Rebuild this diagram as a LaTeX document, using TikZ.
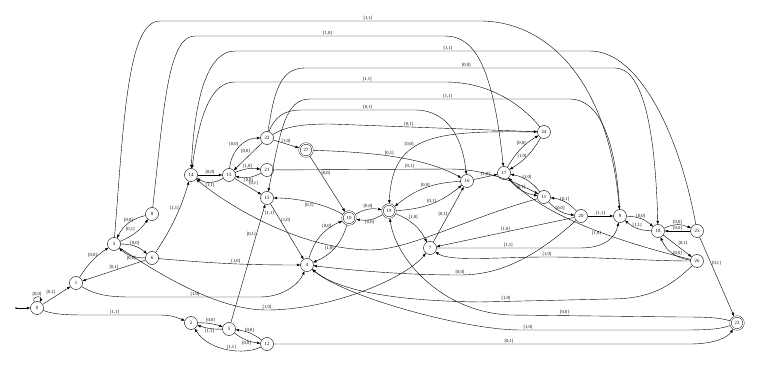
\documentclass[tikz,border=0pt]{standalone}
\usepackage{fontspec}
\setmainfont{Liberation Serif}
\usetikzlibrary{arrows.meta}
\tikzset{
  state/.style={circle,draw,minimum size=13pt,inner sep=0pt},
  accept/.style={state,double,double distance=1.1pt,outer sep=1pt},
  lbl/.style={inner sep=0.8pt,font=\fontsize{4.6}{5}\selectfont}
}
\begin{document}
\begin{tikzpicture}[x=1pt,y=1pt,font=\fontsize{4.8}{5}\selectfont,line width=0.4pt,
    >={Triangle[length=3.4pt,width=2.5pt]}]
  \useasboundingbox (0,0) rectangle (761,367);
  % states
  \coordinate (st) at (16,59);
  \node[state] (s0) at (37,59) {0};
  \node[state] (s1) at (76,84) {1};
  \node[state] (s2) at (191,44) {2};
  \node[state] (s3) at (114,123) {3};
  \node[state] (s8) at (152,153) {8};
  \node[state] (s6) at (152,109) {6};
  \node[state] (s5) at (229,38) {5};
  \node[state] (s12) at (267,23) {12};
  \node[state] (s14) at (191,192) {14};
  \node[state] (s13) at (229,192) {13};
  \node[state] (s22) at (267,229) {22};
  \node[state] (s21) at (267,197) {21};
  \node[accept] (s27) at (306,217) {27};
  \node[state] (s15) at (267,169) {15};
  \node[accept] (s10) at (349,149) {10};
  \node[state] (s4) at (307,102) {4};
  \node[state] (s24) at (544,235) {24};
  \node[state] (s17) at (504,194) {17};
  \node[state] (s16) at (467,186) {16};
  \node[state] (s11) at (544,170) {11};
  \node[accept] (s19) at (389,156) {19};
  \node[state] (s7) at (430,119) {7};
  \node[state] (s20) at (581,151) {20};
  \node[state] (s9) at (620,151) {9};
  \node[state] (s18) at (658,136) {18};
  \node[state] (s25) at (697,136) {25};
  \node[state] (s26) at (697,106) {26};
  \node[accept] (s23) at (737,44) {23};

  % left part
  \fill (st) circle (0.8pt);
  \draw[->] (st) -- (s0);
  \draw[->] (s0) to[loop,out=115,in=65,min distance=7pt] node[lbl,above] {[0,0]} (s0);
  \draw[->] (s0) -- node[lbl,above left] {[0,1]} (s1);
  \draw[->] (s1) to[bend left=12] node[lbl,left,pos=0.7] {[0,0]} (s3);
  \draw[->] (s8) to[bend right=25] node[lbl,above] {[0,0]} (s3);
  \draw[->] (s3) to[bend right=15] node[lbl,above left] {[0,1]} (s8);
  \draw[->] (s3) to[bend left=20] node[lbl,above] {[0,0]} (s6);
  \draw[->] (s6) to[bend left=20] node[lbl,below] {[0,0]} (s3);
  \draw[->] (s6) -- node[lbl,above] {[0,1]} (s1);
  \draw[->] (s6) to[bend right=8] node[lbl,left,pos=0.65] {[1,1]} (s14);
  \draw[->] (s6) to[out=-5,in=180] node[lbl,above,pos=0.55] {[1,0]} (s4);
  \draw[->] (s1) .. controls (95,72) and (110,70) .. (130,70) -- node[lbl,above] {[1,0]} (260,70) .. controls (285,70) and (300,85) .. (s4);
  \draw[->] (s0) .. controls (55,52) and (70,52) .. (90,52) -- node[lbl,above,pos=0.35] {[1,1]} (160,52) .. controls (172,52) and (178,49) .. (s2);
  \draw[->] (s3) .. controls (175,82) and (225,57) .. (267,57) node[lbl,above] {[1,0]} .. controls (330,57) and (405,88) .. (s7);

  % bottom
  \draw[->] (s2) to[bend left=10] node[lbl,above] {[0,0]} (s5);
  \draw[->] (s5) to[bend left=10] node[lbl,below] {[1,1]} (s2);
  \draw[->] (s12) to[bend right=15] node[lbl,above] {[0,0]} (s5);
  \draw[->] (s5) to[bend right=15] node[lbl,below] {[0,0]} (s12);
  \draw[->] (s12) .. controls (245,12) and (210,15) .. node[lbl,above,pos=0.45] {[1,1]} (s2);
  \draw[->] (s5) -- node[lbl,left,pos=0.75] {[0,1]} (s15);
  \draw[->] (s12) -- node[lbl,above,pos=0.565] {[0,1]} (690,23) .. controls (715,23) and (728,30) .. (s23);

  % middle
  \draw[->] (s14) -- node[lbl,above] {[0,0]} (s13);
  \draw[->] (s13) to[bend left=30] node[lbl,below] {[1,1]} (s14);
  \draw[->] (s13) to[out=85,in=180] node[lbl,above left] {[0,0]} (s22);
  \draw[->] (s22) -- node[lbl,above left,pos=0.4] {[0,0]} (s13);
  \draw[->] (s13) to[bend left=15] node[lbl,above] {[1,0]} (s21);
  \draw[->] (s21) to[bend left=20] node[lbl,below] {[0,0]} (s13);
  \draw[->] (s13) -- node[lbl,above right] {[0,1]} (s15);
  \draw[->] (s22) -- node[lbl,above] {[1,0]} (s27);
  \draw[->] (s27) -- node[lbl,right,pos=0.3] {[0,0]} (s10);
  \draw[->] (s10) to[out=150,in=0,looseness=0.8] node[lbl,below] {[0,1]} (s15);
  \draw[->] (s15) -- node[lbl,right,pos=0.3] {[1,0]} (s4);
  \draw[->] (s4) to[bend left=25] node[lbl,left,pos=0.8] {[0,0]} (s10);
  \draw[->] (s10) to[bend left=25] node[lbl,left] {[1,0]} (s4);
  \draw[->] (s10) to[bend left=20] node[lbl,above] {[0,0]} (s19);
  \draw[->] (s19) to[bend left=20] node[lbl,below] {[0,0]} (s10);
  \draw[->] (s19) to[bend left=20] node[lbl,above right,pos=0.3] {[1,0]} (s7);
  \draw[->] (s7) -- node[lbl,left] {[0,1]} (s16);
  \draw[->] (s16) to[bend right=18] node[lbl,above] {[0,0]} (s19);
  \draw[->] (s19) to[bend right=18] node[lbl,above] {[0,1]} (s16);
  \draw[->] (s16) -- node[lbl,above] {[1,0]} (s17);
  \draw[->] (s27) .. controls (360,215) and (420,212) .. node[lbl,above] {[0,1]} (s16);
  \draw[->] (s21) -- node[lbl,above,pos=0.77] {[0,1]} (450,198) .. controls (480,198) and (510,188) .. (s11);
  \draw[->] (s11) .. controls (470,150) and (410,117) .. (370,117) .. controls (300,118) and (230,160) .. node[lbl,above=8pt] {[1,1]} (s14);
  \draw[->] (s22) .. controls (274,250) and (285,257) .. (300,257) -- node[lbl,above,pos=0.59] {[0,1]} (415,257) .. controls (450,257) and (463,225) .. (s16);
  \draw[->] (s22) .. controls (285,240) and (300,243) .. (330,243) -- node[lbl,above,pos=0.38] {[0,1]} (s24);
  \draw[->] (s24) .. controls (440,236) and (392,235) .. node[lbl,above left,pos=0.6] {[0,0]} (s19);

  % right part
  \draw[->] (s17) to[bend left=14] node[lbl,left,pos=0.7] {[0,0]} (s24);
  \draw[->] (s24) to[bend left=14] node[lbl,left] {[1,0]} (s17);
  \draw[->] (s11) to[bend right=20] node[lbl,above] {[1,0]} (s17);
  \draw[->] (s17) to[bend right=20] node[lbl,above] {[0,1]} (s11);
  \draw[->] (s20) to[bend right=20] node[lbl,above] {[0,1]} (s11);
  \draw[->] (s11) to[bend right=20] node[lbl,above] {[0,0]} (s20);
  \draw[->] (s20) -- node[lbl,above] {[1,1]} (s9);
  \draw[->] (s9) to[bend left=20] node[lbl,above] {[0,0]} (s18);
  \draw[->] (s18) to[bend left=20] node[lbl,above] {[1,1]} (s9);
  \draw[->] (s18) to[bend left=25] node[lbl,above] {[0,0]} (s25);
  \draw[->] (s25) -- node[lbl,above] {[0,0]} (s18);
  \draw[->] (s18) -- node[lbl,above right] {[0,1]} (s26);
  \draw[->] (s26) to[bend left=30] node[lbl,right] {[0,0]} (s18);
  \draw[->] (s25) -- node[lbl,right,pos=0.33] {[0,1]} (s23);
  \draw[->] (s20) -- node[lbl,above] {[1,0]} (s7);
  \draw[->] (s7) -- node[lbl,above] {[1,1]} (580,119) .. controls (603,119) and (615,128) .. (s9);
  \draw[->] (s26) .. controls (650,106) and (600,110) .. (547,110) node[lbl,above] {[1,0]} .. controls (500,110) and (450,105) .. (s7);
  \draw[->] (s26) .. controls (620,125) and (545,150) .. node[lbl,below,pos=0.45] {[1,0]} (s17);
  \draw[->] (s20) .. controls (530,105) and (495,92) .. (460,92) node[lbl,above] {[0,0]} .. controls (400,92) and (350,97) .. (s4);
  \draw[->] (s26) .. controls (670,80) and (650,68) .. (610,68) -- node[lbl,above,pos=0.8] {[1,0]} (480,65) .. controls (400,66) and (340,75) .. (s4);
  \draw[->] (s23) .. controls (718,37) and (700,37) .. (680,37) -- node[lbl,above,pos=0.95] {[1,0]} (520,37) .. controls (465,37) and (345,70) .. (s4);
  \draw[->] (s23) .. controls (718,50) and (700,50) .. (680,50) -- node[lbl,above,pos=0.68] {[0,0]} (510,52) .. controls (440,55) and (395,110) .. (s19);

  % long arcs over the top
  \draw[->] (s3) .. controls (124,250) and (128,346) .. (160,346) -- node[lbl,above,pos=0.65] {[1,1]} (480,346) .. controls (545,346) and (608,290) .. (s9);
  \draw[->] (s8) .. controls (164,260) and (168,331) .. (195,331) -- node[lbl,above,pos=0.53] {[1,0]} (445,331) .. controls (475,331) and (493,300) .. (s17);
  \draw[->] (s25) .. controls (680,230) and (640,316) .. (590,316) -- node[lbl,above,pos=0.4] {[1,1]} (235,316) .. controls (205,316) and (194,260) .. (s14);
  \draw[->] (s22) .. controls (274,275) and (280,299) .. (305,299) -- node[lbl,above,pos=0.52] {[0,0]} (615,299) .. controls (640,299) and (655,250) .. (s18);
  \draw[->] (s24) .. controls (522,262) and (490,285) .. (445,285) -- node[lbl,above,pos=0.37] {[1,1]} (235,285) .. controls (212,285) and (200,255) .. (s14);
  \draw[->] (s9) .. controls (616,225) and (600,268) .. (570,268) -- node[lbl,above,pos=0.47] {[1,1]} (310,268) .. controls (286,268) and (281,240) .. (s15);
\end{tikzpicture}
\end{document}
